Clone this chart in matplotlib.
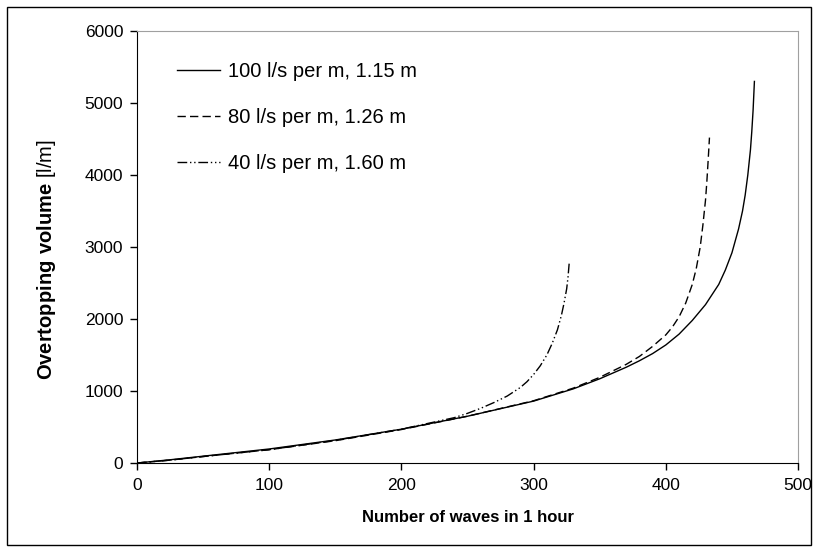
import matplotlib
matplotlib.use("Agg")
import matplotlib.pyplot as plt
from matplotlib.patches import Rectangle

plt.rcParams['font.family'] = ['Liberation Sans', 'DejaVu Sans']
plt.rcParams['mathtext.fontset'] = 'custom'
plt.rcParams['mathtext.bf'] = 'Liberation Sans:bold'
plt.rcParams['mathtext.rm'] = 'Liberation Sans'

# Data
x_100 = [0, 25, 50, 100, 150, 200, 250, 300, 330, 350, 370, 380, 390, 400, 410, 420, 430, 440,
         445, 450, 455, 458, 460, 462, 464, 465, 466, 467]
y_100 = [0, 45, 95, 195, 320, 470, 650, 860, 1030, 1170, 1330, 1420, 1520, 1640, 1790, 1980, 2200, 2480,
         2680, 2920, 3250, 3500, 3720, 4000, 4350, 4600, 4900, 5300]

x_80 = [0, 25, 50, 100, 150, 200, 250, 300, 330, 350, 370, 380, 390, 400, 405, 410, 415, 420,
        423, 426, 428, 430, 431, 432, 433]
y_80 = [0, 40, 90, 185, 310, 465, 650, 865, 1040, 1190, 1370, 1480, 1620, 1780, 1890, 2030, 2220, 2480,
        2700, 3000, 3300, 3650, 3900, 4200, 4520]

x_40 = [0, 25, 50, 100, 150, 200, 240, 250, 260, 270, 280, 290, 295, 300, 305, 310, 314, 318,
        321, 323, 325, 326, 327]
y_40 = [0, 40, 90, 185, 315, 470, 630, 690, 760, 840, 930, 1050, 1130, 1230, 1350, 1500, 1660, 1850,
        2050, 2220, 2420, 2580, 2800]

labels = ["100 l/s per m, 1.15 m", "80 l/s per m, 1.26 m", "40 l/s per m, 1.60 m"]

fig = plt.figure(figsize=(8.18, 5.52), dpi=100)
ax = fig.add_axes([0.1675, 0.1612, 0.9756 - 0.1675, 0.9438 - 0.1612])

ax.plot(x_100, y_100, color='black', lw=1.0, linestyle='-', label=labels[0])
ax.plot(x_80, y_80, color='black', lw=1.0, dashes=[6, 3], label=labels[1])
ax.plot(x_40, y_40, color='black', lw=1.0, dashes=[7, 2, 1, 2, 1, 2], label=labels[2])

ax.set_xlim(0, 500)
ax.set_ylim(0, 6000)
ax.set_xticks([0, 100, 200, 300, 400, 500])
ax.set_yticks([0, 1000, 2000, 3000, 4000, 5000, 6000])
ax.tick_params(direction='out', length=5, width=1, labelsize=12.5, colors='black')
ax.tick_params(axis='x', pad=6)
ax.tick_params(axis='y', pad=5)
for s in ['top', 'right']:
    ax.spines[s].set_color('#a0a0a0')
for s in ['left', 'bottom']:
    ax.spines[s].set_color('black')

ax.set_xlabel("Number of waves in 1 hour", fontsize=12, fontweight='bold', labelpad=12)
ax.set_ylabel(r"$\bf{Overtopping\ volume}$ [l/m]", fontsize=14.5)
ax.yaxis.set_label_coords(-0.120, 0.472)

leg = ax.legend(loc='upper left', bbox_to_anchor=(0.0605, 0.928), frameon=False,
                fontsize=14.5, handlelength=2.15, handletextpad=0.38, labelspacing=1.33,
                borderpad=0, borderaxespad=0)

fig.patches.append(Rectangle((0.009, 0.013), 0.982, 0.974, transform=fig.transFigure,
                             fill=False, edgecolor='black', lw=1.0))

fig.savefig("out.png", dpi=100)
